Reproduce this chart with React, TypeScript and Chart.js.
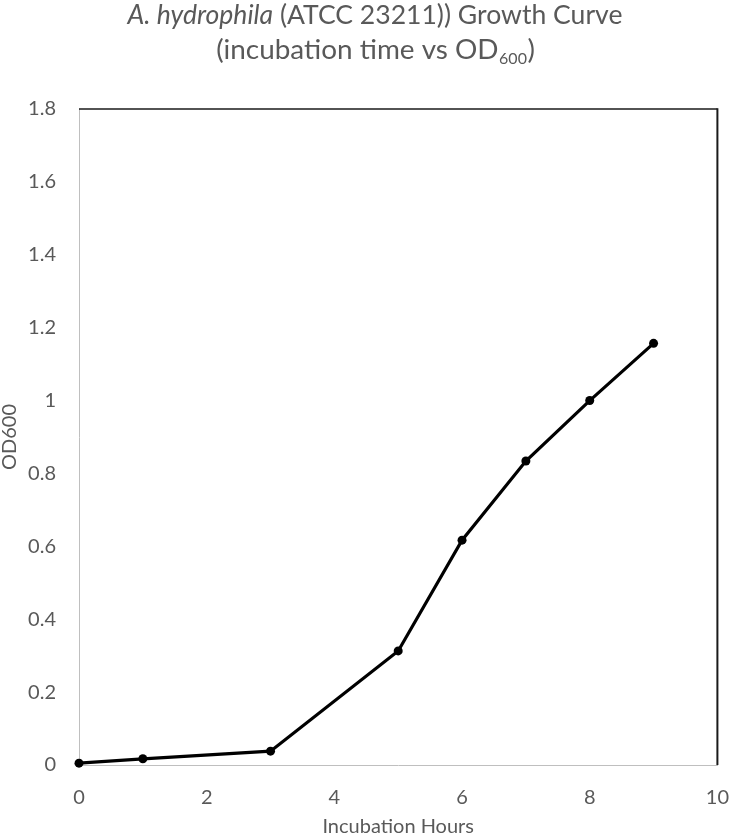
import React, { useEffect, useRef } from "react";
import { Chart, registerables } from "chart.js";

Chart.register(...registerables);

// ---- data ----
const hours = [0, 1, 3, 5, 6, 7, 8, 9];
const od600 = [0.005, 0.017, 0.038, 0.313, 0.617, 0.834, 1.0, 1.157];
const xTicks = [0, 2, 4, 6, 8, 10];
const yTicks = [0, 0.2, 0.4, 0.6, 0.8, 1, 1.2, 1.4, 1.6, 1.8];

// ---- text ----
const titleItalic = "A. hydrophila";
const titleRest = " (ATCC 23211)) Growth Curve";
const title2Main = "(incubation time vs OD";
const title2Sub = "600";
const title2End = ")";
const xTitle = "Incubation Hours";
const yTitle = "OD600";

const FONT = "Lato, 'Open Sans', sans-serif";
const TEXT = "#595959";

const richTitle = {
  id: "richTitle",
  afterDraw(chart: any) {
    const ctx = chart.ctx as CanvasRenderingContext2D;
    const cx = chart.width / 2;
    ctx.save();
    ctx.fillStyle = TEXT;
    ctx.textBaseline = "alphabetic";
    ctx.textAlign = "left";

    // line 1 sized to the reference width
    const base = 24;
    ctx.font = `italic ${base}px ${FONT}`;
    let wa = ctx.measureText(titleItalic).width;
    ctx.font = `${base}px ${FONT}`;
    let wb = ctx.measureText(titleRest).width;
    const size1 = Math.min(27, base * 495 / (wa + wb));
    ctx.font = `italic ${size1}px ${FONT}`;
    wa = ctx.measureText(titleItalic).width;
    ctx.font = `${size1}px ${FONT}`;
    wb = ctx.measureText(titleRest).width;
    let x = cx - (wa + wb) / 2;
    const y1 = 24;
    ctx.font = `italic ${size1}px ${FONT}`;
    ctx.fillText(titleItalic, x, y1);
    ctx.font = `${size1}px ${FONT}`;
    ctx.fillText(titleRest, x + wa, y1);

    // line 2
    const size2 = size1 * 1.05;
    const subSize = 16;
    ctx.font = `${size2}px ${FONT}`;
    const w2a = ctx.measureText(title2Main).width;
    const w2c = ctx.measureText(title2End).width;
    ctx.font = `${subSize}px ${FONT}`;
    const w2b = ctx.measureText(title2Sub).width;
    x = cx - (w2a + w2b + w2c) / 2;
    const y2 = 59;
    ctx.font = `${size2}px ${FONT}`;
    ctx.fillText(title2Main, x, y2);
    ctx.font = `${subSize}px ${FONT}`;
    ctx.fillText(title2Sub, x + w2a + 0.5, y2 + 5);
    ctx.font = `${size2}px ${FONT}`;
    ctx.fillText(title2End, x + w2a + w2b + 1, y2);
    ctx.restore();
  },
};

const frame = {
  id: "frame",
  afterDraw(chart: any) {
    const { left, right, top, bottom } = chart.chartArea;
    const ctx = chart.ctx as CanvasRenderingContext2D;
    ctx.save();
    ctx.strokeStyle = "#1a1a1a";
    ctx.lineWidth = 1.5;
    ctx.beginPath();
    ctx.moveTo(left, top);
    ctx.lineTo(right, top);
    ctx.stroke();
    ctx.lineWidth = 2;
    ctx.beginPath();
    ctx.moveTo(right, top - 0.75);
    ctx.lineTo(right, bottom);
    ctx.stroke();
    ctx.restore();
  },
};

export default function App() {
  const ref = useRef<HTMLCanvasElement>(null);

  useEffect(() => {
    document.body.style.margin = "0";
    const canvas = ref.current;
    if (!canvas) return;
    const tickFont = { family: FONT, size: 20 };
    const titleFont = { family: FONT, size: 20, lineHeight: 0.95 };
    const chart = new Chart(canvas, {
      type: "scatter",
      data: {
        datasets: [
          {
            label: "OD600",
            data: hours.map((h, i) => ({ x: h, y: od600[i] })),
            showLine: true,
            borderColor: "#000000",
            backgroundColor: "#000000",
            borderWidth: 3.2,
            pointRadius: 4.5,
            pointHoverRadius: 4.5,
            pointBorderWidth: 0,
            clip: false as any,
          },
        ],
      },
      options: {
        responsive: false,
        animation: false,
        layout: { padding: { top: 109, right: 13, left: 0, bottom: 0 } },
        plugins: {
          legend: { display: false },
          tooltip: { enabled: false },
          title: { display: false },
        },
        scales: {
          x: {
            type: "linear",
            min: 0,
            max: 10,
            afterBuildTicks: (s: any) => {
              s.ticks = xTicks.map((v) => ({ value: v }));
            },
            afterFit: (s: any) => {
              s.height = 74;
            },
            grid: { display: false, drawTicks: false },
            border: { display: true, color: "#bfbfbf", width: 1 },
            ticks: {
              font: tickFont,
              color: TEXT,
              padding: 21,
              maxRotation: 0,
              callback: (v: any) => String(v),
            },
            title: {
              display: true,
              text: xTitle,
              font: tickFont,
              color: TEXT,
              padding: 0,
            },
          },
          y: {
            type: "linear",
            min: 0,
            max: 1.8,
            afterBuildTicks: (s: any) => {
              s.ticks = yTicks.map((v) => ({ value: v }));
            },
            afterFit: (s: any) => {
              s.width = 79;
            },
            grid: { display: false, drawTicks: false },
            border: { display: true, color: "#bfbfbf", width: 1 },
            ticks: {
              font: tickFont,
              color: TEXT,
              padding: 23,
              callback: (v: any) => String(v),
            },
            title: {
              display: true,
              text: yTitle,
              font: titleFont,
              color: TEXT,
              padding: 0,
            },
          },
        },
      },
      plugins: [richTitle, frame],
    });
    return () => chart.destroy();
  }, []);

  return <canvas ref={ref} width={750} height={839} style={{ display: "block" }} />;
}
